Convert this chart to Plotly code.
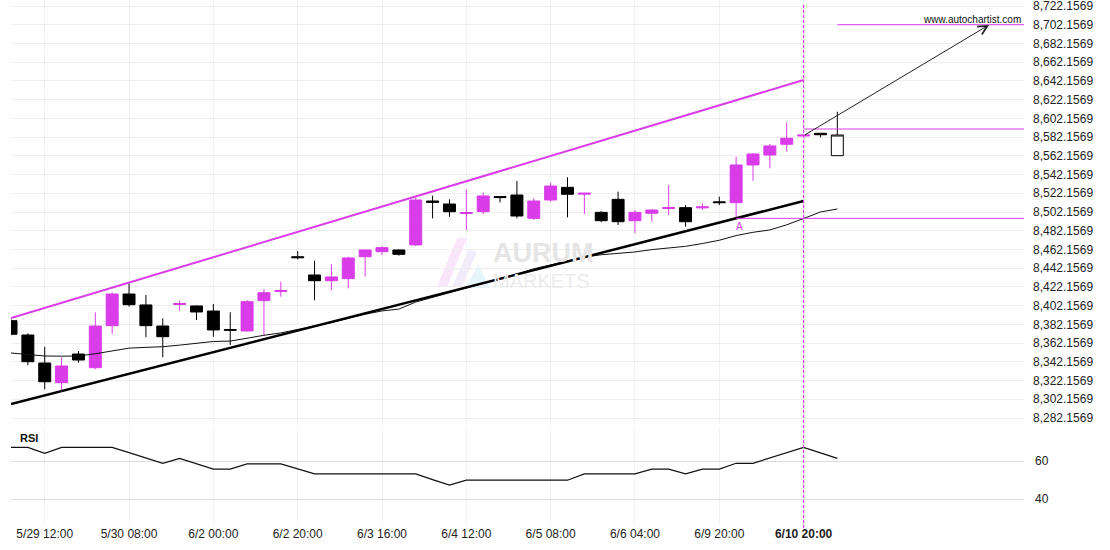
import plotly.graph_objects as go

MAG = "#d93ce8"
FONT = "Liberation Sans, Arial, sans-serif"

# ---- candle data (4h bars, x = bar index) ----
bar_idx = list(range(49))
opens = [8386.1, 8370.8, 8340.9, 8319.9, 8350.5, 8335.9, 8380.8, 8414.6, 8402.9, 8380.4,
         8403.4, 8401.8, 8396.4, 8376.7, 8375.1, 8407.5, 8417.2, 8454.4, 8434.9, 8428.8,
         8431.0, 8454.4, 8459.8, 8461.6, 8467.0, 8513.9, 8510.7, 8500.6, 8502.5, 8518.6,
         8520.3, 8495.4, 8515.0, 8528.5, 8521.2, 8501.8, 8515.7, 8492.9, 8500.8, 8505.9,
         8506.8, 8506.6, 8513.0, 8512.1, 8552.4, 8563.0, 8574.5, 8583.3, 8586.2]
highs = [8387.5, 8372.6, 8358.3, 8347.0, 8353.7, 8395.1, 8416.4, 8426.0, 8413.5, 8388.6,
         8407.5, 8402.5, 8403.9, 8395.1, 8408.2, 8419.6, 8427.8, 8460.5, 8450.2, 8446.4,
         8454.4, 8462.0, 8465.9, 8462.0, 8517.5, 8519.6, 8515.7, 8526.4, 8522.9, 8519.2,
         8535.3, 8516.8, 8533.5, 8539.2, 8522.2, 8503.0, 8523.9, 8504.3, 8505.0, 8531.0,
         8509.6, 8511.5, 8518.6, 8561.2, 8565.0, 8574.8, 8598.0, 8584.3, 8586.5]
lows = [8370.5, 8338.5, 8312.8, 8311.3, 8341.2, 8334.2, 8371.9, 8401.0, 8368.4, 8347.0,
        8396.8, 8386.8, 8369.0, 8360.2, 8374.4, 8370.8, 8411.7, 8451.6, 8407.9, 8418.6,
        8420.7, 8433.1, 8456.3, 8455.5, 8466.0, 8495.4, 8497.0, 8483.0, 8500.0, 8512.5,
        8495.4, 8493.6, 8513.2, 8496.5, 8500.0, 8491.2, 8488.3, 8479.4, 8491.8, 8499.0,
        8486.5, 8504.3, 8509.6, 8495.4, 8535.6, 8548.8, 8566.6, 8583.3, 8581.9]
closes = [8371.6, 8342.3, 8320.9, 8337.7, 8344.1, 8380.4, 8414.6, 8403.2, 8380.8, 8369.0,
          8404.4, 8395.4, 8376.2, 8375.9, 8406.4, 8416.0, 8418.2, 8453.4, 8428.8, 8432.8,
          8453.1, 8461.6, 8464.1, 8457.0, 8515.0, 8512.5, 8502.5, 8501.6, 8519.3, 8517.6,
          8497.9, 8513.9, 8529.9, 8521.1, 8522.2, 8492.9, 8491.8, 8501.8, 8504.3, 8506.9,
          8491.8, 8507.6, 8512.2, 8552.4, 8564.1, 8572.7, 8580.9, 8584.3, 8584.7]

# current (open) bar drawn hollow
cur_idx = [49]
cur_open = [8562.3]
cur_high = [8609.3]
cur_low = [8562.3]
cur_close = [8584.4]

# moving average
ma_idx = list(range(50))
ma_vals = [8351.6, 8349.8, 8348.4, 8348.2, 8348.4, 8350.8, 8354.0, 8356.8, 8357.6, 8358.3,
           8360.0, 8362.0, 8363.9, 8364.3, 8367.5, 8370.5, 8373.0, 8377.0, 8380.5, 8384.0,
           8388.5, 8393.0, 8396.5, 8398.5, 8406.0, 8411.0, 8416.0, 8420.5, 8425.5, 8430.6,
           8436.0, 8441.5, 8445.6, 8450.0, 8454.0, 8456.5, 8457.8, 8459.5, 8462.0, 8464.0,
           8465.5, 8468.5, 8472.0, 8477.0, 8480.5, 8483.0, 8488.5, 8495.2, 8502.2, 8505.4]

# RSI
rsi_idx = list(range(50))
rsi_vals = [67.2, 67.2, 64.0, 67.2, 67.2, 67.2, 67.2, 64.4, 61.6, 58.8,
            61.4, 58.5, 55.7, 55.7, 58.5, 58.5, 58.5, 55.9, 53.2, 53.2,
            53.2, 53.2, 53.2, 53.2, 53.2, 50.2, 47.3, 49.9, 49.9, 49.9,
            49.9, 49.9, 49.9, 49.9, 53.2, 53.2, 53.2, 53.2, 55.7, 55.7,
            53.2, 55.7, 55.7, 58.8, 58.8, 61.6, 64.4, 67.2, 64.3, 61.4]

# channel lines
upper_x = [0, 47]
upper_y = [8389.0, 8643.1]
lower_x = [0, 47]
lower_y = [8297.1, 8513.9]

# horizontal levels (start index, price)
level_start = [49, 47, 43]
level_price = [8702.1569, 8590.8, 8495.4]

# forecast arrow
arrow_from = (47, 8583.7)
arrow_to = (58, 8702.0)

pattern_end = 47

tick_idx = [2, 7, 12, 17, 22, 27, 32, 37, 42, 47]
tick_labels = ["5/29 12:00", "5/30 08:00", "6/2 00:00", "6/2 20:00", "6/3 16:00",
               "6/4 12:00", "6/5 08:00", "6/6 04:00", "6/9 20:00", "<b>6/10 20:00</b>"]

X_MAX = 60.07

fig = go.Figure()

fig.add_trace(go.Scatter(x=ma_idx, y=ma_vals, mode="lines",
                         line=dict(color="#111111", width=1), xaxis="x", yaxis="y"))
fig.add_trace(go.Scatter(x=upper_x, y=upper_y, mode="lines",
                         line=dict(color=MAG, width=2), xaxis="x", yaxis="y"))
fig.add_trace(go.Scatter(x=lower_x, y=lower_y, mode="lines",
                         line=dict(color="#000000", width=2.5), xaxis="x", yaxis="y"))
for s, p in zip(level_start, level_price):
    fig.add_trace(go.Scatter(x=[s, X_MAX + 1], y=[p, p], mode="lines",
                             line=dict(color=MAG, width=1), xaxis="x", yaxis="y"))

fig.add_trace(go.Candlestick(
    x=bar_idx, open=opens, high=highs, low=lows, close=closes,
    increasing=dict(line=dict(color=MAG, width=1), fillcolor=MAG),
    decreasing=dict(line=dict(color="#000000", width=1), fillcolor="#000000"),
    whiskerwidth=0, xaxis="x", yaxis="y"))
fig.add_trace(go.Candlestick(
    x=cur_idx, open=cur_open, high=cur_high, low=cur_low, close=cur_close,
    increasing=dict(line=dict(color="#000000", width=1), fillcolor="#ffffff"),
    decreasing=dict(line=dict(color="#000000", width=1), fillcolor="#ffffff"),
    whiskerwidth=0, xaxis="x", yaxis="y"))

fig.add_trace(go.Scatter(x=rsi_idx, y=rsi_vals, mode="lines",
                         line=dict(color="#111111", width=1.2), xaxis="x2", yaxis="y2"))

W, H = 1110, 550
L, R, T, B = 11, 86, 0, 25
PW, PH = W - L - R, H - T - B


def paper(px, py):
    return (px - L) / PW, (H - B - py) / PH


shapes = []
# vertical dashed marker
shapes.append(dict(type="line", xref="x", yref="paper", x0=pattern_end, x1=pattern_end,
                   y0=paper(0, 528)[1], y1=paper(0, 5)[1],
                   line=dict(color=MAG, width=1.2, dash="3px,2px")))


def poly(pts, color, op):
    d = "M " + " L ".join("%.4f,%.4f" % paper(a, b) for a, b in pts) + " Z"
    return dict(type="path", xref="paper", yref="paper", path=d, fillcolor=color,
                line=dict(width=0), opacity=op, layer="below")


# watermark logo
shapes.append(poly([(437, 287), (447, 287), (467, 238), (457, 238)], "#f0b8f2", 0.35))
shapes.append(poly([(452, 287), (462, 287), (477, 252), (469, 249)], "#d6c8f3", 0.35))
shapes.append(poly([(466, 288), (478, 264), (490, 288)], "#bfe6f7", 0.4))

annotations = [
    dict(text="www.autochartist.com", xref="paper", yref="paper",
         x=paper(1023, 0)[0], y=paper(0, 19)[1], xanchor="right", yanchor="middle",
         showarrow=False, font=dict(size=10, color="#111111", family=FONT)),
    dict(text="<b>RSI</b>", xref="paper", yref="paper",
         x=paper(18, 0)[0], y=paper(0, 438)[1], xanchor="left", yanchor="middle",
         showarrow=False, font=dict(size=11, color="#111111", family=FONT)),
    dict(text="A", xref="x", yref="y", x=43.2, y=level_price[2], xanchor="center",
         yanchor="top", yshift=-1, showarrow=False,
         font=dict(size=10, color=MAG, family=FONT)),
    dict(text=('<span style="font-size:27px;color:#e5e5e5"><b>AURUM</b></span><br>'
               '<span style="font-size:20px;color:#ececec">MARKETS</span>'),
         xref="paper", yref="paper", align="left",
         x=paper(491, 0)[0], y=paper(0, 265)[1], xanchor="left", yanchor="middle",
         showarrow=False, font=dict(size=20, color="#e8e8e8", family=FONT)),
    dict(text="", xref="x", yref="y", x=arrow_to[0], y=arrow_to[1],
         axref="x", ayref="y", ax=arrow_from[0], ay=arrow_from[1],
         showarrow=True, arrowhead=5, arrowsize=1.8, arrowwidth=1,
         arrowcolor="#222222", standoff=0, startstandoff=0),
]

price_top, price_bot = 8728.57, 8274.70
rsi_top, rsi_bot = 77.37, 26.32

fig.update_layout(
    width=W, height=H,
    margin=dict(l=L, r=R, t=T, b=B),
    paper_bgcolor="white", plot_bgcolor="white",
    showlegend=False, template="none",
    font=dict(family=FONT, size=12, color="#222222"),
    boxgap=0.29, boxgroupgap=0,
    shapes=shapes, annotations=annotations,
    xaxis=dict(domain=[0, 1], range=[0, X_MAX], anchor="y", type="linear",
               tickvals=tick_idx, showticklabels=False, showgrid=True,
               gridcolor="#f2f2f2", gridwidth=1, zeroline=False, showline=False,
               ticks="", rangeslider=dict(visible=False)),
    xaxis2=dict(domain=[0, 1], range=[0, X_MAX], anchor="y2", matches="x", type="linear",
                tickvals=tick_idx, ticktext=tick_labels, showgrid=True,
                gridcolor="#f2f2f2", gridwidth=1, zeroline=False, showline=False,
                ticks="", tickfont=dict(size=12, color="#222222", family=FONT)),
    yaxis=dict(domain=[(H - B - 425) / PH, 1], range=[price_bot, price_top], side="right",
               anchor="x", tick0=8282.1569, dtick=20, tickformat=",.4f",
               showgrid=True, gridcolor="#eeeeee", gridwidth=1, zeroline=False,
               showline=False, ticks="", ticklabelstandoff=8, ticklabeloverflow="allow",
               tickfont=dict(size=12, color="#222222", family=FONT)),
    yaxis2=dict(domain=[0, (H - B - 428) / PH], range=[rsi_bot, rsi_top], side="right",
                anchor="x2", tickvals=[40, 60], showgrid=True, gridcolor="#dcdcdc",
                gridwidth=1, zeroline=False, showline=False, ticks="",
                ticklabelstandoff=10, tickfont=dict(size=12, color="#222222", family=FONT)),
)

fig.write_html("out.html", config={"displayModeBar": False},
               post_script="document.body.style.margin='0px';document.body.style.overflow='hidden';")
